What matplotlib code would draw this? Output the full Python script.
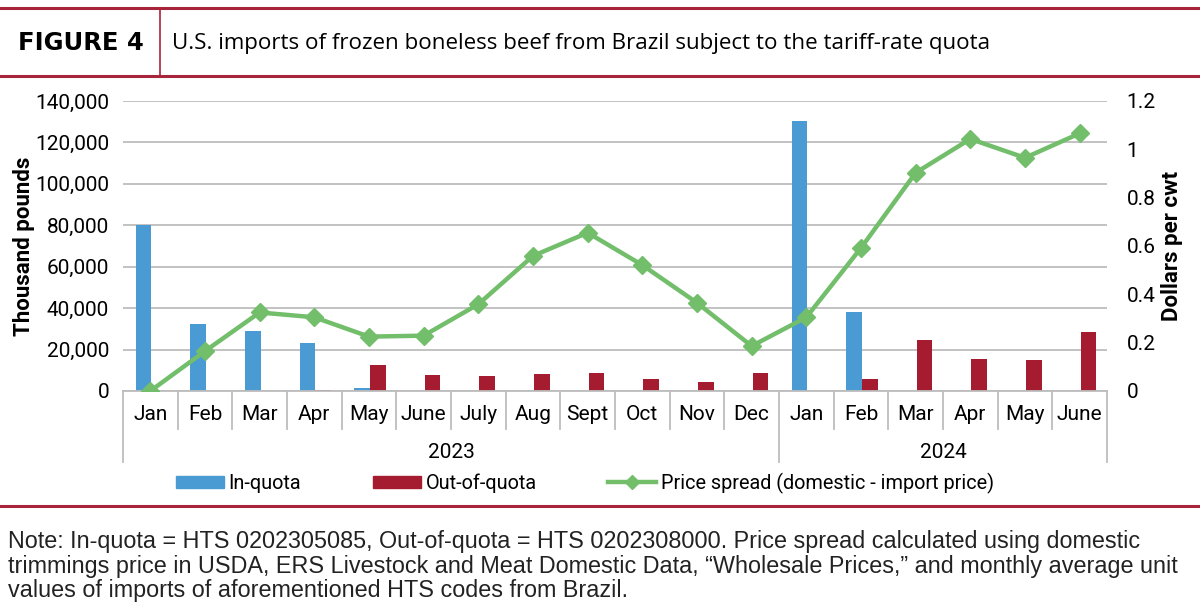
import matplotlib
matplotlib.use("Agg")
import matplotlib.pyplot as plt
import matplotlib.font_manager as fm
import matplotlib.transforms as mtransforms
from matplotlib.lines import Line2D
from matplotlib.patches import Patch
import numpy as np

# ---------------- data ----------------
months = ["Jan", "Feb", "Mar", "Apr", "May", "June", "July", "Aug", "Sept", "Oct", "Nov", "Dec",
          "Jan", "Feb", "Mar", "Apr", "May", "June"]
years = ["2023", "2024"]
year_counts = [12, 6]
in_quota = [80000, 32200, 28800, 23300, 1600, 0, 0, 0, 0, 0, 0, 0,
            130500, 38000, 0, 0, 0, 0]
out_quota = [0, 0, 0, 300, 12700, 7600, 7300, 8400, 8500, 5800, 4500, 8700,
             0, 5700, 24600, 15300, 15000, 28300]
price_spread = [0.0, 0.165, 0.325, 0.305, 0.225, 0.229, 0.359, 0.559, 0.655, 0.521, 0.365, 0.186,
                0.305, 0.592, 0.903, 1.043, 0.965, 1.066]
left_ticks = [0, 20000, 40000, 60000, 80000, 100000, 120000, 140000]
right_ticks = [0, 0.2, 0.4, 0.6, 0.8, 1.0, 1.2]
right_tick_labels = ["0", "0.2", "0.4", "0.6", "0.8", "1", "1.2"]

title_tag = "FIGURE 4"
title_text = "U.S. imports of frozen boneless beef from Brazil subject to the tariff-rate quota"
note_text = ("Note: In-quota = HTS 0202305085, Out-of-quota = HTS 0202308000. Price spread calculated using domestic\n"
             "trimmings price in USDA, ERS Livestock and Meat Domestic Data, \u201cWholesale Prices,\u201d and monthly average unit\n"
             "values of imports of aforementioned HTS codes from Brazil.")

# ---------------- fonts ----------------
NARROW = ["Roboto", "DejaVu Sans"]
SANS = ["Liberation Sans", "DejaVu Sans"]

BLUE = "#4A9AD4"
RED = "#A51C30"
GREEN = "#72BE6B"
GRID = "#BDBDBD"
HEADRED = "#A8243A"

fig = plt.figure(figsize=(12, 6.12), dpi=100)

# ---------------- header ----------------
fig.add_artist(Line2D([0.0, 1.0], [1 - 8 / 612, 1 - 8 / 612], color=HEADRED, lw=2.2))
fig.add_artist(Line2D([0.0, 1.0], [1 - 76 / 612, 1 - 76 / 612], color=HEADRED, lw=2.2))
fig.add_artist(Line2D([160 / 1200, 160 / 1200], [1 - 76 / 612, 1 - 8 / 612], color=HEADRED, lw=1.2))
fig.text(18 / 1200, 1 - 43 / 612, title_tag, fontsize=17.5, fontweight="bold",
         family=["DejaVu Sans"], va="center", ha="left")
fig.text(172 / 1200, 1 - 44 / 612, title_text, fontsize=16.1,
         family=["Open Sans", "DejaVu Sans"], va="center", ha="left")

# ---------------- axes ----------------
x_left, x_right = 123 / 1200, 1107 / 1200
y_bot, y_top = 1 - 391 / 612, 1 - 101 / 612
ax = fig.add_axes([x_left, y_bot, x_right - x_left, y_top - y_bot])
ax2 = ax.twinx()

n = len(months)
x = np.arange(n)
bw = 0.286
ax.bar(x - bw / 2 + 0.02, in_quota, width=bw, color=BLUE, zorder=2, label="In-quota")
ax.bar(x + bw / 2 + 0.02, out_quota, width=bw, color=RED, zorder=2, label="Out-of-quota")
ax2.plot(x, price_spread, color=GREEN, lw=3.2, marker="D", markersize=9.5, zorder=3,
         label="Price spread (domestic - import price)")

ax.set_xlim(-0.5, n - 0.5)
ax.set_ylim(0, 140000)
ax2.set_ylim(0, 1.2)
ax.set_yticks(left_ticks)
ax.set_yticklabels([f"{v:,}" for v in left_ticks], family=NARROW, fontsize=15)
ax2.set_yticks(right_ticks)
ax2.set_yticklabels(right_tick_labels, family=NARROW, fontsize=15)
ax.tick_params(axis="y", length=0, pad=10)
ax2.tick_params(axis="y", length=0, pad=14)
ax.set_xticks([])
ax.yaxis.grid(True, color=GRID, lw=1.3, zorder=0)
ax.set_axisbelow(True)
for a in (ax, ax2):
    for s in ("top", "left", "right"):
        a.spines[s].set_visible(False)
    a.spines["bottom"].set_color(GRID)
    a.spines["bottom"].set_linewidth(1.3)
ax2.spines["bottom"].set_visible(False)

ax.set_ylabel("Thousand pounds", fontsize=16, fontweight="bold", family=NARROW)
ax.yaxis.set_label_coords(-(123 - 35) / 984, 0.5)
ax2.set_ylabel("Dollars per cwt", fontsize=16, fontweight="bold", family=NARROW)
ax2.yaxis.set_label_coords(1 + (1161 - 1107) / 984, 0.5)

# ---------------- multi-level category axis ----------------
trans = mtransforms.blended_transform_factory(ax.transData, ax.transAxes)
ah = 290.0
month_sep = -38 / ah
year_sep = -71 / ah
year_bounds = np.concatenate([[0], np.cumsum(year_counts)]) - 0.5
for i in range(n + 1):
    xs = i - 0.5
    bottom = year_sep if xs in year_bounds else month_sep
    ax.add_artist(Line2D([xs, xs], [0, bottom], transform=trans, color=GRID, lw=1.3, clip_on=False))
for i, m in enumerate(months):
    ax.text(i, -24 / ah, m, transform=trans, ha="center", va="center", fontsize=15, family=NARROW)
for k, yname in enumerate(years):
    cx = (year_bounds[k] + year_bounds[k + 1]) / 2
    ax.text(cx, -62 / ah, yname, transform=trans, ha="center", va="center", fontsize=15, family=NARROW)

# ---------------- legend ----------------
handles = [Patch(color=BLUE, label="In-quota"), Patch(color=RED, label="Out-of-quota"),
           Line2D([], [], color=GREEN, lw=3.2, marker="D", markersize=7,
                  label="Price spread (domestic - import price)")]
fig.legend(handles=handles, loc="center", bbox_to_anchor=(585 / 1200, 1 - 483 / 612), ncol=3,
           frameon=False, prop=fm.FontProperties(family=NARROW, size=14.3),
           handlelength=2.4, handleheight=0.6, handletextpad=0.25, columnspacing=3.6)

fig.add_artist(Line2D([0.0, 1.0], [1 - 506 / 612, 1 - 506 / 612], color=HEADRED, lw=2.2))

fig.text(8 / 1200, 1 - 566 / 612, note_text, fontsize=16.8, family=SANS, va="center", ha="left",
         linespacing=1.1, color="#222222")

fig.savefig("out.png", dpi=100)
